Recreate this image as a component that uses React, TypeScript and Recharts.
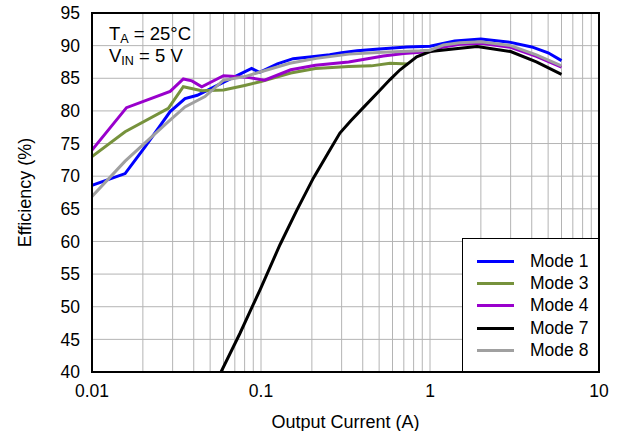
import { LineChart, Line, XAxis, YAxis, CartesianGrid } from 'recharts'

/* ── data ── */

const xTicks = [
  0.01, 0.02, 0.03, 0.04, 0.05, 0.06, 0.07, 0.08, 0.09,
  0.1, 0.2, 0.3, 0.4, 0.5, 0.6, 0.7, 0.8, 0.9,
  1, 2, 3, 4, 5, 6, 7, 8, 9, 10,
]
const xLabels = ['0.01', '0.1', '1', '10']
const yTicks = [40, 45, 50, 55, 60, 65, 70, 75, 80, 85, 90, 95]

const mode1Current = [0.01, 0.0157, 0.0206, 0.029, 0.0355, 0.042, 0.061, 0.088, 0.098, 0.125, 0.155, 0.2, 0.255, 0.3, 0.37, 0.5, 0.73, 1.0, 1.4, 2.0, 3.0, 4.0, 5.0, 6.0]
const mode1Eff = [68.6, 70.4, 74.5, 79.9, 81.9, 82.4, 84.5, 86.5, 85.9, 87.2, 88.0, 88.3, 88.6, 88.9, 89.2, 89.5, 89.8, 89.9, 90.7, 91.0, 90.5, 89.8, 88.9, 87.7]

const mode3Current = [0.01, 0.0157, 0.0283, 0.0347, 0.0446, 0.06, 0.08, 0.1, 0.15, 0.21, 0.33, 0.45, 0.58, 0.74]
const mode3Eff = [73.0, 76.8, 80.4, 83.7, 83.1, 83.2, 83.9, 84.5, 85.8, 86.5, 86.8, 86.9, 87.3, 87.2]

const mode4Current = [0.01, 0.016, 0.029, 0.0347, 0.039, 0.0446, 0.06, 0.067, 0.085, 0.105, 0.15, 0.21, 0.33, 0.53, 0.7, 1.0, 1.2, 1.5, 2.0, 3.0, 4.26, 6.0]
const mode4Eff = [74.0, 80.5, 83.0, 84.9, 84.6, 83.7, 85.4, 85.3, 85.1, 84.7, 86.3, 87.0, 87.5, 88.4, 88.8, 89.1, 89.8, 90.2, 90.35, 89.75, 88.35, 86.7]

const mode7Current = [0.058, 0.075, 0.0987, 0.1295, 0.163, 0.204, 0.25, 0.293, 0.34, 0.403, 0.494, 0.58, 0.665, 0.834, 1.0, 1.37, 1.9, 3.0, 4.26, 6.0]
const mode7Eff = [40, 45.9, 52.6, 59.5, 64.8, 69.7, 73.6, 76.6, 78.5, 80.5, 82.9, 84.8, 86.3, 88.3, 89.1, 89.5, 89.85, 89.1, 87.5, 85.6]

const mode8Current = [0.01, 0.0157, 0.0283, 0.0355, 0.0466, 0.06, 0.08, 0.1, 0.148, 0.213, 0.332, 0.527, 0.87, 1.0, 1.2, 1.5, 2.0, 3.0, 4.26, 6.0]
const mode8Eff = [66.9, 72.3, 78.35, 80.6, 82.2, 84.7, 85.25, 86.0, 87.3, 88.05, 88.7, 89.0, 89.2, 89.3, 90.1, 90.45, 90.6, 90.0, 88.6, 86.9]

const seriesNames = ['Mode 1', 'Mode 3', 'Mode 4', 'Mode 7', 'Mode 8']
const seriesColors = ['#0000FF', '#76923C', '#9900CC', '#000000', '#A0A0A0']

const toPoints = (xs: number[], ys: number[]) => xs.map((x, i) => ({ x, y: ys[i] }))

const series = [
  toPoints(mode1Current, mode1Eff),
  toPoints(mode3Current, mode3Eff),
  toPoints(mode4Current, mode4Eff),
  toPoints(mode7Current, mode7Eff),
  toPoints(mode8Current, mode8Eff),
].map((points, i) => ({ name: seriesNames[i], color: seriesColors[i], points }))

/* ── chart ── */

const FONT = "'Liberation Sans', Arial, Helvetica, sans-serif"
const W = 619
const H = 431
const M = { top: 13, right: 20, left: 0, bottom: 0 }
const Y_AXIS_W = 92
const X_AXIS_H = 59

export default function App() {
  const plotW = W - M.right - Y_AXIS_W
  const plotH = H - M.top - X_AXIS_H

  return (
    <div style={{ position: 'relative', width: W, height: H, fontFamily: FONT, background: '#fff' }}>
      <style>{'body { margin: 0; }'}</style>
      <LineChart width={W} height={H} margin={M}>
        <CartesianGrid stroke="#B4B4B4" strokeWidth={1} />
        <XAxis
          dataKey="x"
          type="number"
          scale="log"
          domain={[0.01, 10]}
          ticks={xTicks}
          interval={0}
          allowDataOverflow
          tickFormatter={(v: number) => (xLabels.includes(String(v)) ? String(v) : '')}
          tick={{ fill: '#000', fontSize: 17.5 }}
          tickLine={false}
          tickSize={0}
          tickMargin={13}
          axisLine={false}
          height={X_AXIS_H}
          label={{ value: 'Output Current (A)', position: 'insideBottom', offset: 3, fill: '#000', fontSize: 18 }}
        />
        <YAxis
          type="number"
          domain={[40, 95]}
          ticks={yTicks}
          interval={0}
          allowDataOverflow
          tick={{ fill: '#000', fontSize: 17.5 }}
          tickLine={false}
          tickSize={0}
          tickMargin={12}
          axisLine={false}
          width={Y_AXIS_W}
          label={{
            value: 'Efficiency (%)',
            angle: -90,
            position: 'insideLeft',
            offset: 25,
            fill: '#000',
            fontSize: 18,
            style: { textAnchor: 'middle' },
          }}
        />
        {series.map((s) => (
          <Line
            key={s.name}
            data={s.points}
            dataKey="y"
            type="linear"
            stroke={s.color}
            strokeWidth={3}
            dot={false}
            activeDot={false}
            isAnimationActive={false}
          />
        ))}
      </LineChart>

      {/* plot frame */}
      <div
        style={{
          position: 'absolute',
          left: Y_AXIS_W - 1,
          top: M.top - 1,
          width: plotW + 2,
          height: plotH + 2,
          border: '2px solid #000',
          boxSizing: 'border-box',
          pointerEvents: 'none',
        }}
      />

      {/* conditions */}
      <div style={{ position: 'absolute', left: 109, top: 23, fontSize: 18.5, lineHeight: '21.5px', color: '#000' }}>
        <div>T<sub style={{ fontSize: '0.68em', verticalAlign: '-0.25em', lineHeight: 0 }}>A</sub> = 25°C</div>
        <div>V<sub style={{ fontSize: '0.68em', verticalAlign: '-0.25em', lineHeight: 0 }}>IN</sub> = 5 V</div>
      </div>

      {/* legend */}
      <div
        style={{
          position: 'absolute',
          left: 462,
          top: 238,
          width: 137,
          height: 134,
          border: '1.5px solid #000',
          boxSizing: 'border-box',
          background: '#fff',
          paddingTop: 11,
        }}
      >
        {series.map((s) => (
          <div key={s.name} style={{ display: 'flex', alignItems: 'center', height: 22.4, fontSize: 17.5, color: '#000' }}>
            <span style={{ display: 'inline-block', width: 37, height: 3, background: s.color, marginLeft: 14, marginRight: 16 }} />
            <span>{s.name}</span>
          </div>
        ))}
      </div>
    </div>
  )
}
